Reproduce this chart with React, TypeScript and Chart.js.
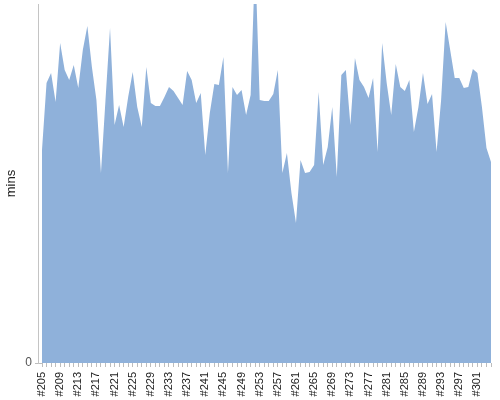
import React, { useEffect, useRef } from "react";
import { Chart, registerables } from "chart.js";

Chart.register(...registerables);

const buildIds = [
  "#205", "#206", "#207", "#208", "#209", "#210", "#211", "#212", "#213", "#214",
  "#215", "#216", "#217", "#218", "#219", "#220", "#221", "#222", "#223", "#224",
  "#225", "#226", "#227", "#228", "#229", "#230", "#231", "#232", "#233", "#234",
  "#235", "#236", "#237", "#238", "#239", "#240", "#241", "#242", "#243", "#244",
  "#245", "#246", "#247", "#248", "#249", "#250", "#251", "#252", "#253", "#254",
  "#255", "#256", "#257", "#258", "#259", "#260", "#261", "#262", "#263", "#264",
  "#265", "#266", "#267", "#268", "#269", "#270", "#271", "#272", "#273", "#274",
  "#275", "#276", "#277", "#278", "#279", "#280", "#281", "#282", "#283", "#284",
  "#285", "#286", "#287", "#288", "#289", "#290", "#291", "#292", "#293", "#294",
  "#295", "#296", "#297", "#298", "#299", "#300", "#301", "#302", "#303", "#304",
];

const durationValues = [
  213, 280, 290, 261, 320, 293, 283, 298, 275, 313,
  337, 296, 263, 190, 263, 335, 238, 258, 236, 266,
  291, 256, 236, 296, 260, 257, 257, 266, 276, 272,
  265, 258, 292, 283, 260, 270, 208, 250, 279, 278,
  306, 190, 276, 268, 273, 248, 268, 405, 263, 262,
  262, 269, 293, 190, 210, 170, 140, 203, 190, 191,
  198, 271, 198, 216, 256, 186, 288, 293, 238, 305,
  283, 276, 265, 285, 211, 320, 280, 248, 299, 276,
  272, 283, 231, 256, 290, 259, 269, 211, 263, 341,
  313, 285, 285, 275, 276, 294, 290, 256, 215, 201,
];

const yTickValues = [0];
const yAxisMax = 359;
const yTitle = "mins";
const labelEvery = 4;

export default function App() {
  const ref = useRef<HTMLCanvasElement>(null);

  useEffect(() => {
    document.body.style.margin = "0";
    const leftAxisLine = {
      id: "leftAxisLine",
      afterDraw(chart: any) {
        const { ctx, chartArea } = chart;
        ctx.save();
        ctx.strokeStyle = "#c4c4c4";
        ctx.lineWidth = 1;
        ctx.beginPath();
        ctx.moveTo(chartArea.left - 3.5, chartArea.top);
        ctx.lineTo(chartArea.left - 3.5, chartArea.bottom + 1);
        ctx.stroke();
        ctx.restore();
      },
    };
    const zeroPad = (s: any) => {
      s.paddingLeft = 0;
      s.paddingRight = 0;
      s.paddingTop = 0;
      s.paddingBottom = 0;
    };
    const chart = new Chart(ref.current as HTMLCanvasElement, {
      type: "line",
      data: {
        labels: buildIds,
        datasets: [
          {
            data: durationValues,
            fill: "origin",
            backgroundColor: "#8fb1da",
            borderColor: "#8fb1da",
            borderWidth: 0,
            pointRadius: 0,
            tension: 0,
          },
        ],
      },
      options: {
        animation: false,
        responsive: false,
        layout: { padding: { top: 4, right: 9, left: 0, bottom: 0 } },
        plugins: { legend: { display: false }, tooltip: { enabled: false } },
        scales: {
          x: {
            offset: false,
            grid: { display: true, drawOnChartArea: false, tickLength: 4, color: "#bdbdbd" },
            border: { display: false },
            ticks: {
              autoSkip: false,
              maxRotation: 90,
              minRotation: 90,
              padding: 5,
              color: "#222",
              font: { family: "Liberation Sans", size: 11 },
              callback: (_v: any, i: number) => (i % labelEvery === 0 ? buildIds[i] : ""),
            },
            afterFit: (s: any) => {
              s.height = 37;
              zeroPad(s);
            },
          },
          y: {
            min: 0,
            max: yAxisMax,
            grid: { display: true, drawOnChartArea: false, tickLength: 7, color: "#bdbdbd" },
            border: { display: false },
            afterBuildTicks: (s: any) => {
              s.ticks = yTickValues.map((v) => ({ value: v }));
            },
            ticks: {
              padding: 3,
              color: "#555",
              font: { family: "Liberation Sans", size: 12 },
            },
            title: {
              display: true,
              text: yTitle,
              color: "#222",
              font: { family: "Liberation Sans", size: 13 },
              padding: 4,
            },
            afterFit: (s: any) => {
              s.width = 42;
              zeroPad(s);
            },
          },
        },
      },
      plugins: [leftAxisLine],
    });
    return () => chart.destroy();
  }, []);

  return (
    <div style={{ position: "fixed", left: 0, top: 0, width: 500, height: 400 }}>
      <canvas ref={ref} width={500} height={400} />
    </div>
  );
}
